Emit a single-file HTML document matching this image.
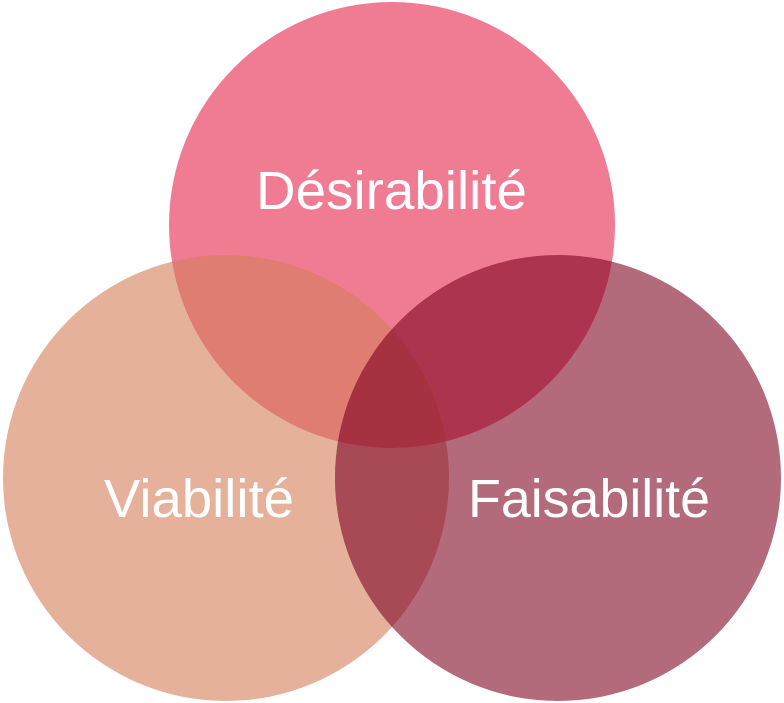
<!DOCTYPE html>
<html><head><meta charset="utf-8"><style>html,body{margin:0;padding:0;background:#fff}svg{display:block}</style></head>
<body>
<svg width="784" height="703" viewBox="0 0 784 703" xmlns="http://www.w3.org/2000/svg">
<defs>
<clipPath id="cT"><circle cx="392" cy="225" r="223"/></clipPath>
<clipPath id="cL"><circle cx="226" cy="478" r="223"/></clipPath>
<clipPath id="cR"><circle cx="558" cy="478" r="223"/></clipPath>
</defs>
<circle cx="226" cy="478" r="223" fill="#E6B19B"/>
<circle cx="558" cy="478" r="223" fill="#B36A7B"/>
<circle cx="392" cy="225" r="223" fill="#F07C93"/>
<g clip-path="url(#cL)"><circle cx="558" cy="478" r="223" fill="#A84A55"/></g>
<g clip-path="url(#cL)"><circle cx="392" cy="225" r="223" fill="#E07D73"/></g>
<g clip-path="url(#cR)"><circle cx="392" cy="225" r="223" fill="#AD344E"/></g>
<g clip-path="url(#cL)"><g clip-path="url(#cR)"><circle cx="392" cy="225" r="223" fill="#A63141"/></g></g>
<g font-family="Liberation Sans, Arial, sans-serif" font-size="54" fill="#fff">
<text x="256" y="209" textLength="271" lengthAdjust="spacingAndGlyphs">Désirabilité</text>
<text x="104" y="517" textLength="190" lengthAdjust="spacingAndGlyphs">Viabilité</text>
<text x="468" y="517" textLength="242" lengthAdjust="spacingAndGlyphs">Faisabilité</text>
</g>
</svg>
</body></html>
